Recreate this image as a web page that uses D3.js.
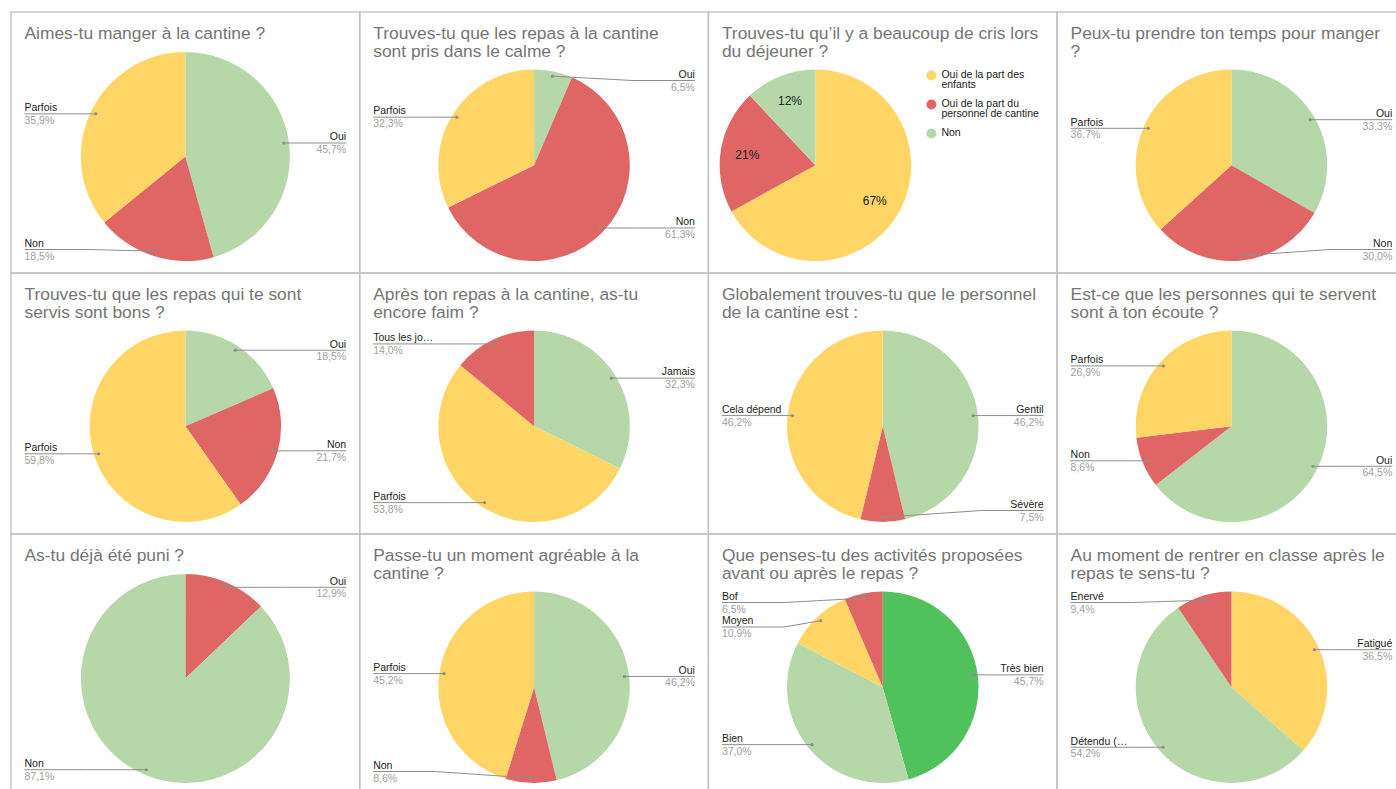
<!DOCTYPE html>
<html>
<head>
<meta charset="utf-8">
<script src="https://cdn.jsdelivr.net/npm/d3@7"></script>
<style>
  html, body { margin: 0; padding: 0; background: #fff; }
  svg { display: block; font-family: Arial, "Liberation Sans", sans-serif; }
</style>
</head>
<body>
<svg id="chart" width="1396" height="789"></svg>
<script>
// questions, wrapped the way the sheet wraps them
const titles = [
  ["Aimes-tu manger à la cantine ?"],
  ["Trouves-tu que les repas à la cantine", "sont pris dans le calme ?"],
  ["Trouves-tu qu’il y a beaucoup de cris lors", "du déjeuner ?"],
  ["Peux-tu prendre ton temps pour manger", "?"],
  ["Trouves-tu que les repas qui te sont", "servis sont bons ?"],
  ["Après ton repas à la cantine, as-tu", "encore faim ?"],
  ["Globalement trouves-tu que le personnel", "de la cantine est :"],
  ["Est-ce que les personnes qui te servent", "sont à ton écoute ?"],
  ["As-tu déjà été puni ?"],
  ["Passe-tu un moment agréable à la", "cantine ?"],
  ["Que penses-tu des activités proposées", "avant ou après le repas ?"],
  ["Au moment de rentrer en classe après le", "repas te sens-tu ?"]
];

const answers = [
  ["Oui", "Non", "Parfois"],
  ["Oui", "Non", "Parfois"],
  ["Oui de la part des enfants", "Oui de la part du personnel de cantine", "Non"],
  ["Oui", "Non", "Parfois"],
  ["Oui", "Non", "Parfois"],
  ["Jamais", "Parfois", "Tous les jo…"],
  ["Gentil", "Sévère", "Cela dépend"],
  ["Oui", "Non", "Parfois"],
  ["Oui", "Non"],
  ["Oui", "Non", "Parfois"],
  ["Très bien", "Bien", "Moyen", "Bof"],
  ["Fatigué", "Détendu (…", "Enervé"]
];

const percents = [
  [45.7, 18.5, 35.9],
  [6.5, 61.3, 32.3],
  [67, 21, 12],
  [33.3, 30.0, 36.7],
  [18.5, 21.7, 59.8],
  [32.3, 53.8, 14.0],
  [46.2, 7.5, 46.2],
  [64.5, 8.6, 26.9],
  [12.9, 87.1],
  [46.2, 8.6, 45.2],
  [45.7, 37.0, 10.9, 6.5],
  [36.5, 54.2, 9.4]
];

// tone of every answer (mapped to a colour further down)
const tones = [
  ["pos", "neg", "mid"],
  ["pos", "neg", "mid"],
  ["mid", "neg", "pos"],
  ["pos", "neg", "mid"],
  ["pos", "neg", "mid"],
  ["pos", "mid", "neg"],
  ["pos", "neg", "mid"],
  ["pos", "neg", "mid"],
  ["neg", "pos"],
  ["pos", "neg", "mid"],
  ["top", "pos", "mid", "neg"],
  ["mid", "pos", "neg"]
];

const legendPanel = 2; // the only chart with a legend + inside labels

/* layout */
const x0 = 11, y0 = 12, pw = 348.7, ph = 261, pad = 13.5;
const titleSize = 17.4, titleGap = 17.4;
const labelSize = 10.5, labelGap = 24.5, bendLen = 62;

const color = d3.scaleOrdinal()
  .domain(["pos", "neg", "mid", "top"])
  .range(["#b6d7a8", "#e06666", "#ffd666", "#51c15e"]);
const fmt1 = v => d3.format(".1f")(v).replace(".", ",") + "%";
const fmt0 = v => d3.format(".0f")(v) + "%";

const svg = d3.select("#chart");
svg.append("rect").attr("width", 1396).attr("height", 789).attr("fill", "#fff");

function spread(items, lo, hi) {
  items.sort((a, b) => a.y - b.y);
  for (let i = 0; i < items.length; i++) {
    let y = Math.max(items[i].y, lo);
    if (i > 0) y = Math.max(y, items[i - 1].y + labelGap);
    items[i].y = y;
  }
  for (let i = items.length - 1; i >= 0; i--) {
    let y = Math.min(items[i].y, hi);
    if (i < items.length - 1) y = Math.min(y, items[i + 1].y - labelGap);
    items[i].y = y;
  }
}

titles.forEach((title, i) => {
  const col = i % 4, row = Math.floor(i / 4);
  const px = x0 + col * pw, py = y0 + row * ph;
  const g = svg.append("g");

  g.append("rect")
    .attr("x", px).attr("y", py).attr("width", pw).attr("height", ph)
    .attr("fill", "none").attr("stroke", "#c2c2c2").attr("stroke-width", 1.4);

  g.selectAll(".title").data(title).enter().append("text")
    .attr("x", px + pad).attr("y", (d, k) => py + 27.3 + k * titleGap)
    .attr("font-size", titleSize).attr("fill", "#757575")
    .text(d => d);

  const top = py + 40 + (title.length - 1) * 17.5, bottom = py + 249;
  const r = (bottom - top) / 2, cy = (top + bottom) / 2;
  const withLegend = i === legendPanel;
  const cx = withLegend ? px + 107 : px + pw / 2;

  const data = answers[i].map((a, k) => ({ label: a, v: percents[i][k], tone: tones[i][k] }));
  const arcs = d3.pie().sort(null).value(d => d.v)(data);
  const arc = d3.arc().innerRadius(0).outerRadius(r);

  const pie = g.append("g").attr("transform", `translate(${cx},${cy})`);
  pie.selectAll("path").data(arcs).enter().append("path")
    .attr("d", arc)
    .attr("fill", d => color(d.data.tone));

  if (withLegend) {
    const inner = d3.arc().innerRadius(r * 0.72).outerRadius(r * 0.72);
    pie.selectAll(".pct").data(arcs).enter().append("text")
      .attr("transform", d => `translate(${inner.centroid(d)})`)
      .attr("text-anchor", "middle").attr("dy", "0.35em")
      .attr("font-size", 12).attr("fill", "#222")
      .text(d => fmt0(d.data.v));

    // legend with word wrap
    const lx = px + 223, tx = px + 233;
    let base = py + 66.3;
    data.forEach(d => {
      const t = g.append("text").attr("font-size", labelSize).attr("fill", "#222");
      const words = d.label.split(" ");
      let lines = [], cur = "";
      words.forEach(w => {
        const test = cur ? cur + " " + w : w;
        t.text(test);
        if (cur && t.node().getComputedTextLength() > 102) { lines.push(cur); cur = w; }
        else cur = test;
      });
      lines.push(cur);
      t.text(null);
      lines.forEach((ln, k) => {
        t.append("tspan").attr("x", tx).attr("y", base + k * 10).text(ln);
      });
      g.append("circle").attr("cx", lx).attr("cy", base - 2.8).attr("r", 5)
        .attr("fill", color(d.tone));
      base += lines.length * 10 + 9;
    });
    return;
  }

  // callout labels
  const items = arcs.map(a => {
    const m = (a.startAngle + a.endAngle) / 2;
    const dx = cx + 0.95 * r * Math.sin(m), dy = cy - 0.95 * r * Math.cos(m);
    return { a, dx, dy, y: dy, right: Math.sin(m) >= 0 };
  });
  const lo = top + 11, hi = bottom - 11.5;
  spread(items.filter(d => d.right), lo, hi);
  spread(items.filter(d => !d.right), lo, hi);

  const lab = g.selectAll(".lab").data(items).enter().append("g");
  lab.append("path")
    .attr("fill", "none").attr("stroke", "#8e8e8e").attr("stroke-width", 1)
    .attr("d", d => {
      const edge = d.right ? px + pw - pad : px + pad;
      const bend = d.right ? Math.max(edge - bendLen, d.dx) : Math.min(edge + bendLen, d.dx);
      return `M${edge},${d.y}H${bend}L${d.dx},${d.dy}`;
    });
  lab.append("circle")
    .attr("cx", d => d.dx).attr("cy", d => d.dy).attr("r", 1.6)
    .attr("fill", "#8e8e8e");
  lab.append("text")
    .attr("x", d => d.right ? px + pw - pad : px + pad).attr("y", d => d.y - 2.7)
    .attr("text-anchor", d => d.right ? "end" : "start")
    .attr("font-size", labelSize).attr("fill", "#222")
    .text(d => d.a.data.label);
  lab.append("text")
    .attr("x", d => d.right ? px + pw - pad : px + pad).attr("y", d => d.y + 10)
    .attr("text-anchor", d => d.right ? "end" : "start")
    .attr("font-size", labelSize).attr("fill", "#9e9e9e")
    .text(d => fmt1(d.a.data.v));
});
</script>
</body>
</html>
